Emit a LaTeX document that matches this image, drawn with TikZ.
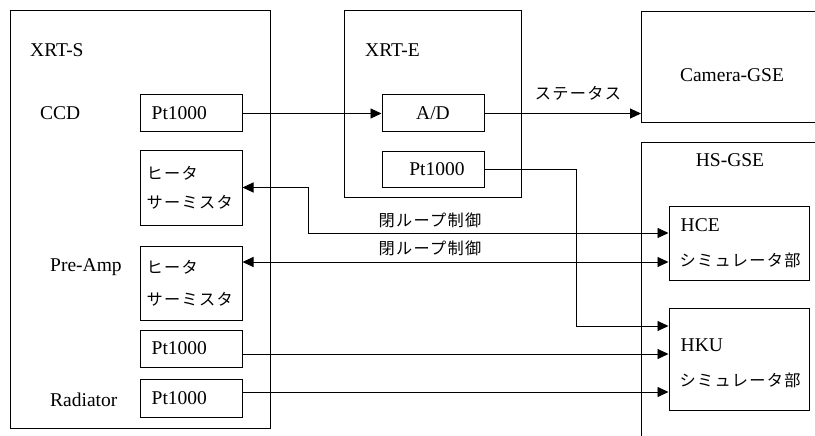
\documentclass[tikz,border=0pt]{standalone}
\usepackage{fontspec}
\setmainfont{Liberation Serif}
\newfontfamily\jp[LetterSpace=8]{Noto Sans CJK JP}
\usetikzlibrary{arrows.meta,calc}

\tikzset{
  box/.style={draw, line width=1pt, rectangle, inner sep=0pt},
  lbl/.style={inner sep=0pt, font=\fontsize{19.5}{22}\selectfont},
  jlbl/.style={inner sep=0pt, font=\fontsize{16.2}{18}\selectfont\jp},
  conn/.style={line width=0.9pt},
  arr/.style={conn, -{Triangle[length=11pt,width=10pt]}},
  biarr/.style={conn, {Triangle[length=11pt,width=10pt]}-{Triangle[length=11pt,width=10pt]}},
}

\begin{document}
\begin{tikzpicture}[x=1pt, y=-1pt]
\useasboundingbox (0,0) rectangle (815,436);

% outer units
\node[box, minimum width=260, minimum height=417] (xrts) at (140,219.5) {};
\node[box, minimum width=177, minimum height=186] (xrte) at (432.5,104) {};
\node[box, anchor=north west, minimum width=200, minimum height=111] (cam) at (641,11) {};
\node[box, anchor=north west, minimum width=200, minimum height=320] (hsgse) at (641,142) {};

% sensors and heaters in XRT-S
\node[box, minimum width=102, minimum height=37] (ptccd) at (191,113.5) {};
\node[box, minimum width=102, minimum height=75] (heat1) at (191,187.5) {};
\node[box, minimum width=102, minimum height=74] (heat2) at (191,283) {};
\node[box, minimum width=102, minimum height=37] (ptamp) at (191,348.5) {};
\node[box, minimum width=102, minimum height=38] (ptrad) at (191,398) {};

% XRT-E blocks
\node[box, minimum width=102, minimum height=37] (ad) at (433,113.5) {};
\node[box, minimum width=102, minimum height=36] (pte) at (433,169) {};

% HS-GSE simulators
\node[box, minimum width=140, minimum height=74] (hce) at (739,243) {};
\node[box, minimum width=140, minimum height=102] (hku) at (739,359) {};

% labels
\node[lbl, anchor=west] (xrtsl) at (30,50) {XRT-S};
\node[lbl, anchor=west] (ccdl) at (40,113) {CCD};
\node[lbl, anchor=west] (ampl) at (50,267) {Pre-Amp};
\node[lbl, anchor=west] (radl) at (50,400) {Radiator};
\node[lbl, anchor=west] (xrtel) at (365,50) {XRT-E};
\node[lbl] (caml) at (732,75) {Camera-GSE};
\node[lbl] (hsl) at (730,160) {HS-GSE};

\node[lbl, anchor=west] (ptccdt) at ([xshift=12]ptccd.west) {Pt1000};
\node[lbl, anchor=west] (ptampt) at ([xshift=12]ptamp.west) {Pt1000};
\node[lbl, anchor=west] (ptradt) at ([xshift=12]ptrad.west) {Pt1000};
\node[lbl] (adt) at (ad) {A/D};
\node[lbl] (ptet) at ([xshift=4]pte.center) {Pt1000};

% (xshift/yshift are page offsets: positive yshift moves up)
\node[jlbl, anchor=west] (h1a) at ([xshift=7,yshift=14.5]heat1.west) {ヒータ};
\node[jlbl, anchor=west] (h1b) at ([xshift=7,yshift=-14.5]heat1.west) {サーミスタ};
\node[jlbl, anchor=west] (h2a) at ([xshift=7,yshift=16]heat2.west) {ヒータ};
\node[jlbl, anchor=west] (h2b) at ([xshift=7,yshift=-16]heat2.west) {サーミスタ};

\node[lbl, anchor=west] (hcet) at ([xshift=12,yshift=18]hce.west) {HCE};
\node[jlbl, anchor=west] (hces) at ([xshift=11,yshift=-17]hce.west) {シミュレータ部};
\node[lbl, anchor=west] (hkut) at ([xshift=12,yshift=14]hku.west) {HKU};
\node[jlbl, anchor=west] (hkus) at ([xshift=11,yshift=-21]hku.west) {シミュレータ部};

% routing points
\coordinate (k1) at (308,233);
\coordinate (k2) at (576,326);
\coordinate (y262) at (0,262);
\coordinate (y354) at (0,354);
\coordinate (y392) at (0,392);

% connectors
\draw[arr] (ptccd) -- (ad);
\draw[arr] (ad.east) -- (ad.east -| cam.west);
\node[jlbl] (stat) at (578,93) {ステータス};

\draw[biarr] (heat1.east) -| (k1) -- (k1 -| hce.west);
\node[jlbl] (loop1) at (430,220) {閉ループ制御};
\draw[biarr] (heat2.east |- y262) -- (hce.west |- y262);
\node[jlbl] (loop2) at (430,248) {閉ループ制御};

\draw[arr] (pte.east) -| (k2) -- (k2 -| hku.west);
\draw[arr] (ptamp.east |- y354) -- (hku.west |- y354);
\draw[arr] (ptrad.east |- y392) -- (hku.west |- y392);
\end{tikzpicture}
\end{document}
